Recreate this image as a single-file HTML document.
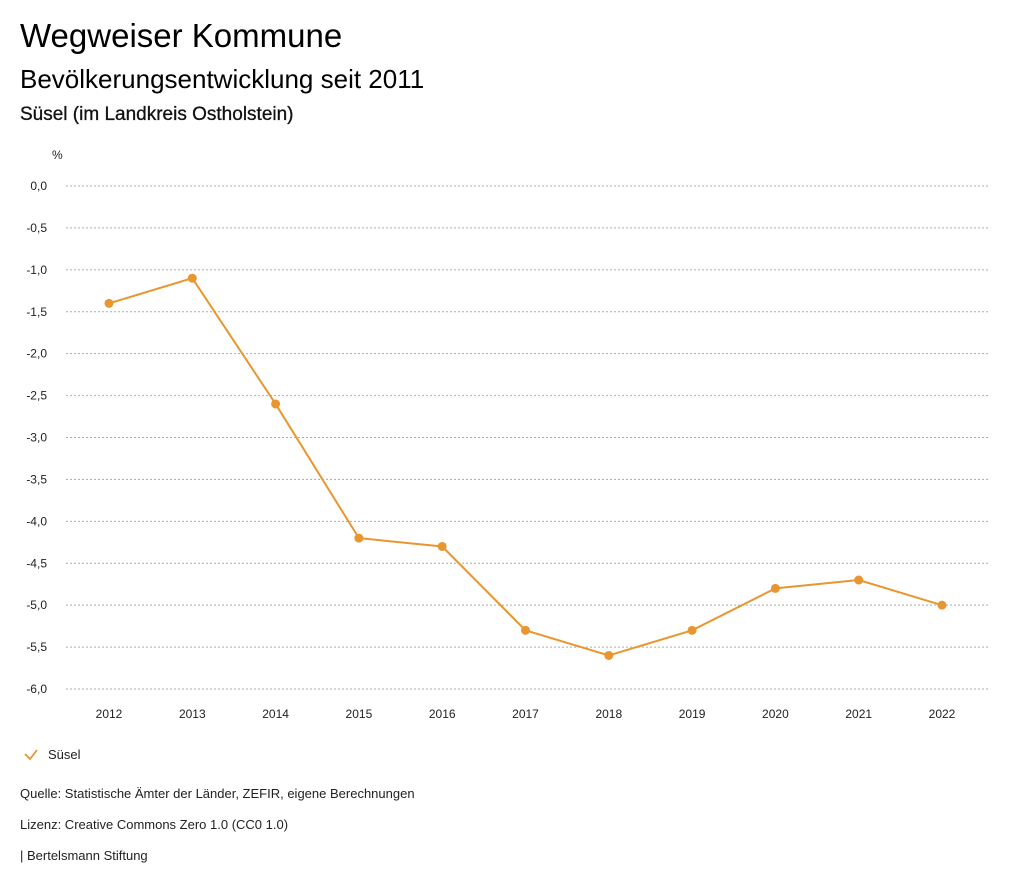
<!DOCTYPE html>
<html><head><meta charset="utf-8"><style>
body{margin:0;background:#fff;font-family:"Liberation Sans",sans-serif;color:#000;width:1024px;height:888px;overflow:hidden;position:relative}
.t{position:absolute;white-space:nowrap}
</style></head><body>
<div class="t" style="left:20px;top:17px;font-size:33px">Wegweiser Kommune</div>
<div class="t" style="left:20px;top:64px;font-size:26px">Bevölkerungsentwicklung seit 2011</div>
<div class="t" style="left:20px;top:104px;font-size:19px;color:#111;-webkit-text-stroke:0.3px #111">Süsel (im Landkreis Ostholstein)</div>
<svg id="chart" width="1024" height="888" style="position:absolute;left:0;top:0"></svg>
<div class="t" style="left:20px;top:786px;font-size:13px;color:#222">Quelle: Statistische Ämter der Länder, ZEFIR, eigene Berechnungen</div>
<div class="t" style="left:20px;top:817px;font-size:13px;color:#222">Lizenz: Creative Commons Zero 1.0 (CC0 1.0)</div>
<div class="t" style="left:20px;top:848px;font-size:13px;color:#222">| Bertelsmann Stiftung</div>
<script>
const years=["2012","2013","2014","2015","2016","2017","2018","2019","2020","2021","2022"];
const values=[-1.4,-1.1,-2.6,-4.2,-4.3,-5.3,-5.6,-5.3,-4.8,-4.7,-5.0];
const yTicks=[0,-0.5,-1,-1.5,-2,-2.5,-3,-3.5,-4,-4.5,-5,-5.5,-6];
const color="#e8962f";
const svg=document.getElementById('chart');
const NS="http://www.w3.org/2000/svg";
const y=v=>186+(0-v)*(689-186)/6;
const x=i=>109+i*(942-109)/(years.length-1);
function mk(t,a){const e=document.createElementNS(NS,t);for(const k in a)e.setAttribute(k,a[k]);svg.appendChild(e);return e;}
const u=mk('text',{x:52,y:159,'font-size':12,fill:'#222'});u.textContent='%';


yTicks.forEach(v=>{
 const l=mk('line',{x1:66,x2:990,y1:y(v),y2:y(v),stroke:'#aaa','stroke-width':1,'stroke-dasharray':'2,2'});
 
 
 const t=mk('text',{x:47,y:y(v)+4,'font-size':12,fill:'#222','text-anchor':'end'});
 t.textContent=v.toFixed(1).replace('.',',');
 
 
});
years.forEach((yr,i)=>{
 const t=mk('text',{x:x(i),y:718,'font-size':12,fill:'#222','text-anchor':'middle'});
 t.textContent=yr;
 
 
});
const p=mk('polyline',{points:values.map((v,i)=>x(i)+','+y(v)).join(' '),fill:'none',stroke:color,'stroke-width':2});


values.forEach((v,i)=>{
 const c=mk('circle',{cx:x(i),cy:y(v),r:4.5,fill:color});
 
 
});
const chk=mk('polyline',{points:'25,754 30,759 37,750',fill:'none',stroke:color,'stroke-width':1.8});


const lt=mk('text',{x:48,y:759,'font-size':13,fill:'#222'});lt.textContent='Süsel';


</script>
</body></html>
